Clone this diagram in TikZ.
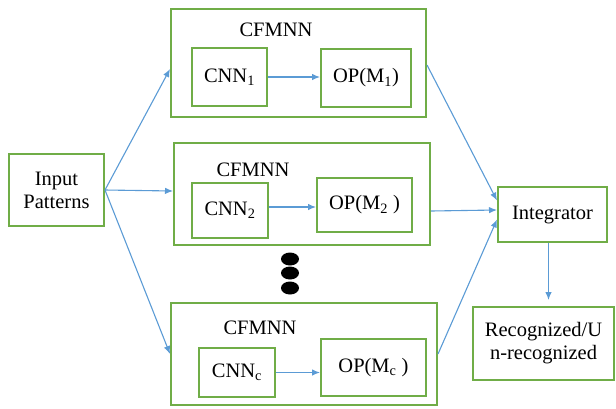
\documentclass[tikz,border=0pt]{standalone}
\usepackage{fontspec}
\setmainfont{Liberation Serif}
\usetikzlibrary{arrows.meta}
\definecolor{gbox}{HTML}{70AD47}
\definecolor{barrow}{HTML}{5B9BD5}
\tikzset{
  box/.style={draw=gbox, line width=2pt, fill=white, inner sep=0pt},
  lbl/.style={font=\fontsize{20.5}{23}\selectfont, inner sep=0pt},
  conn/.style={draw=barrow, line width=1.1pt, -{Latex[length=8pt,width=6.5pt]}},
  dot/.style={fill=black, draw=none, ellipse, minimum width=18pt, minimum height=13pt}
}
\begin{document}
\begin{tikzpicture}[x=1pt,y=-1pt]
\useasboundingbox (0,0) rectangle (616,408);
% outer boxes
\node[box, minimum width=255pt, minimum height=108pt] (b1) at (298.5,63) {};
\node[box, minimum width=256pt, minimum height=102pt] (b2) at (302,194) {};
\node[box, minimum width=266pt, minimum height=102pt] (b3) at (304,354) {};
\node[lbl] (t1) at (276,30) {CFMNN};
\node[lbl] (t2) at (253,170) {CFMNN};
\node[lbl] (t3) at (260,328) {CFMNN};
% inner boxes
\node[box, lbl, minimum width=75pt, minimum height=58pt] (c1) at (229.5,77) {CNN\textsubscript{1}};
\node[box, lbl, minimum width=90pt, minimum height=58pt] (o1) at (366,78) {OP(M\textsubscript{1})};
\node[box, lbl, minimum width=76pt, minimum height=55pt] (c2) at (230,210.5) {CNN\textsubscript{2}};
\node[box, lbl, minimum width=95pt, minimum height=54pt] (o2) at (364.5,205) {OP(M\textsubscript{2} )};
\node[box, lbl, minimum width=76pt, minimum height=49pt] (c3) at (237,372.5) {CNN\textsubscript{c}};
\node[box, lbl, minimum width=105pt, minimum height=57pt] (o3) at (373.5,367.5) {OP(M\textsubscript{c} )};
% side boxes
\node[box, lbl, align=center, minimum width=95pt, minimum height=72pt] (in) at (56.5,190) {Input\\Patterns};
\node[box, lbl, minimum width=109pt, minimum height=55pt] (int) at (552.5,214.5) {Integrator};
\node[box, lbl, align=center, minimum width=141pt, minimum height=73pt] (rec) at (543.5,343.5) {Recognized/U\\n-recognized};
% dots
\fill[black] (290,259) ellipse [x radius=9pt, y radius=6.5pt];
\fill[black] (290,273) ellipse [x radius=9pt, y radius=6.5pt];
\fill[black] (290,288) ellipse [x radius=9pt, y radius=6.5pt];
% connectors
\draw[conn] (in.east) -- ([yshift=-6pt]b1.west);
\draw[conn] (in.east) -- ([yshift=3pt]b2.west);
\draw[conn] (in.east) -- (b3.west);
\draw[conn] (c1.east) -- (c1.east -| o1.west);
\draw[conn] ([yshift=-2pt]o2.west -| c2.east) -- ([yshift=-2pt]o2.west);
\draw[conn] (c3.east) -- (c3.east -| o3.west);
\draw[conn] ([yshift=-2pt]b1.east) -- ([yshift=14pt]int.west);
\draw[conn] ([yshift=-17pt]b2.east) -- ([yshift=4.5pt]int.west);
\draw[conn] (b3.east) -- ([yshift=-5pt]int.west);
\draw[conn] ([xshift=-4pt]int.south) -- ([xshift=-4pt,yshift=6pt]int.south |- rec.north);
\end{tikzpicture}
\end{document}
